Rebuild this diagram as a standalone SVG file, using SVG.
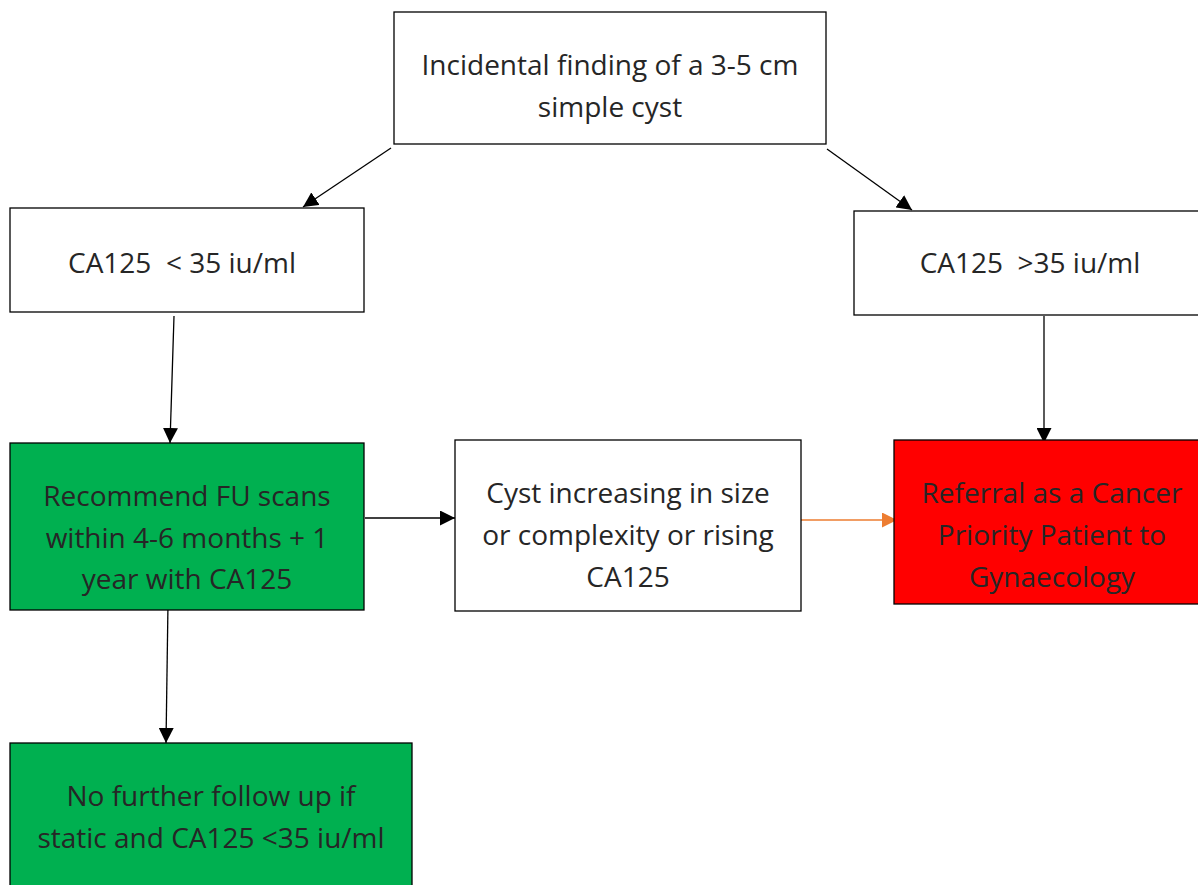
<svg xmlns="http://www.w3.org/2000/svg" width="1198" height="885" viewBox="0 0 1198 885">
  <defs>
    <style>
      .box { stroke: #000; stroke-width: 1.3; }
      .plain { fill: #fff; }
      .green { fill: #00B050; }
      .red { fill: #FF0000; }
      .lbl { font-family: "Open Sans", "Noto Sans", sans-serif; font-size: 28px; fill: #262626; text-anchor: middle; white-space: pre; }
      .con { stroke: #000; stroke-width: 1.3; fill: none; }
      .con-orange { stroke: #ED7D31; stroke-width: 1.3; fill: none; }
    </style>
    <marker id="ah" viewBox="0 0 10 10" refX="10" refY="5" markerWidth="15" markerHeight="15" markerUnits="userSpaceOnUse" orient="auto">
      <path d="M0,0 L10,5 L0,10 Z" fill="#000"/>
    </marker>
    <marker id="ah-orange" viewBox="0 0 10 10" refX="10" refY="5" markerWidth="16" markerHeight="15" markerUnits="userSpaceOnUse" orient="auto">
      <path d="M0,0 L10,5 L0,10 Z" fill="#ED7D31"/>
    </marker>
  </defs>

  <rect width="1198" height="885" fill="#fff"/>

  <g id="connectors">
    <line class="con" x1="391" y1="148" x2="303" y2="207" marker-end="url(#ah)"/>
    <line class="con" x1="827" y1="149" x2="912" y2="210" marker-end="url(#ah)"/>
    <line class="con" x1="174" y1="316" x2="170" y2="443" marker-end="url(#ah)"/>
    <line class="con" x1="1044" y1="316" x2="1044" y2="443" marker-end="url(#ah)"/>
    <line class="con" x1="365" y1="518" x2="455" y2="518" marker-end="url(#ah)"/>
    <line class="con-orange" x1="798" y1="520" x2="897" y2="520" marker-end="url(#ah-orange)"/>
    <line class="con" x1="168" y1="603" x2="166" y2="743" marker-end="url(#ah)"/>
  </g>

  <g id="node-finding">
    <rect class="box plain" x="394" y="12" width="432" height="132"/>
    <text class="lbl" x="610" y="75">Incidental finding of a 3-5 cm</text>
    <text class="lbl" x="610" y="117">simple cyst</text>
  </g>

  <g id="node-ca125-low">
    <rect class="box plain" x="10" y="208" width="354" height="104"/>
    <text class="lbl" x="182" y="273">CA125  &lt; 35 iu/ml</text>
  </g>

  <g id="node-ca125-high">
    <rect class="box plain" x="854" y="211" width="350" height="104"/>
    <text class="lbl" x="1030" y="273">CA125  &gt;35 iu/ml</text>
  </g>

  <g id="node-recommend">
    <rect class="box green" x="10" y="443" width="354" height="167"/>
    <text class="lbl" x="187" y="506">Recommend FU scans</text>
    <text class="lbl" x="187" y="548">within 4-6 months + 1</text>
    <text class="lbl" x="187" y="589">year with CA125</text>
  </g>

  <g id="node-cyst">
    <rect class="box plain" x="455" y="440" width="346" height="171"/>
    <text class="lbl" x="628" y="503">Cyst increasing in size</text>
    <text class="lbl" x="628" y="545">or complexity or rising</text>
    <text class="lbl" x="628" y="587">CA125</text>
  </g>

  <g id="node-referral">
    <rect class="box red" x="894" y="440" width="310" height="164"/>
    <text class="lbl" x="1052" y="503">Referral as a Cancer</text>
    <text class="lbl" x="1052" y="545">Priority Patient to</text>
    <text class="lbl" x="1052" y="587">Gynaecology</text>
  </g>

  <g id="node-no-follow-up">
    <rect class="box green" x="10" y="743" width="402" height="150"/>
    <text class="lbl" x="211" y="806">No further follow up if</text>
    <text class="lbl" x="211" y="848">static and CA125 &lt;35 iu/ml</text>
  </g>
</svg>
